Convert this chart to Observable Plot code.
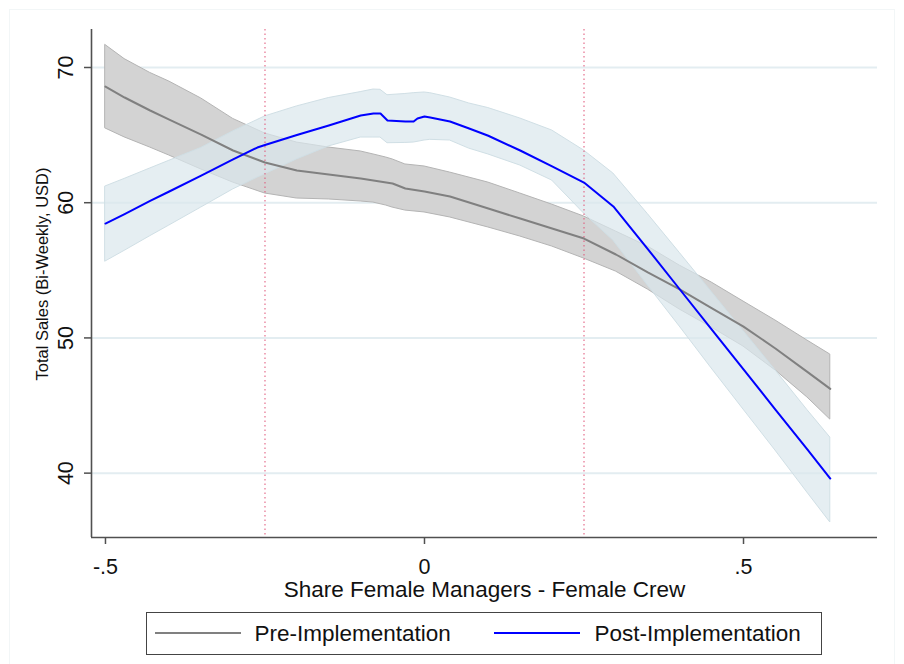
<!DOCTYPE html>
<html>
<head>
<meta charset="utf-8">
<script src="https://cdn.jsdelivr.net/npm/d3@7"></script>
<script src="https://cdn.jsdelivr.net/npm/@observablehq/plot@0.6"></script>
<style>
  html, body { margin: 0; padding: 0; background: #fff; overflow: hidden; }
  #fig { position: relative; width: 904px; height: 664px; font-family: "Liberation Sans", Arial, sans-serif; color: #111; }
  #outline { position: absolute; left: 9px; top: 9px; width: 886px; height: 670px; border: 1px solid #f2f6f7; box-sizing: border-box; }
  #chart { position: absolute; left: 0; top: 0; }
  #legend { position: absolute; left: 146px; top: 612px; width: 676px; height: 43px; border: 1.5px solid #444; box-sizing: border-box; background: #fff; }
  #legend .swatch { position: absolute; height: 0; width: 86px; border-top: 2px solid; }
  #legend .label { position: absolute; top: 8px; font-size: 22.5px; line-height: 25px; white-space: nowrap; color: #111; }
</style>
</head>
<body>
<div id="fig">
  <div id="outline"></div>
  <div id="chart"></div>
  <div id="legend"></div>
</div>
<script>
// Local polynomial fits of bi-weekly total sales (USD) on the
// share of female managers minus share of female crew, with 95% CIs.

const preShare = [-0.5, -0.47, -0.43, -0.4, -0.35, -0.3, -0.25, -0.2, -0.15, -0.1, -0.08, -0.06, -0.05, -0.03, 0, 0.04, 0.1, 0.15, 0.2, 0.25, 0.3, 0.35, 0.4, 0.45, 0.5, 0.55, 0.6, 0.636];
const preMean  = [68.59, 67.78, 66.82, 66.15, 65.04, 63.86, 62.97, 62.38, 62.09, 61.79, 61.64, 61.49, 61.42, 61.05, 60.83, 60.46, 59.57, 58.83, 58.09, 57.35, 56.17, 54.84, 53.59, 52.21, 50.84, 49.22, 47.49, 46.23];
const preHi    = [71.66, 70.62, 69.6, 68.96, 67.71, 66.2, 65.12, 64.45, 64.08, 63.79, 63.57, 63.34, 63.2, 62.83, 62.68, 62.23, 61.49, 60.68, 59.86, 58.98, 57.87, 56.76, 55.35, 54.1, 52.69, 51.29, 49.81, 48.77];
const preLo    = [65.49, 64.83, 64.08, 63.49, 62.46, 61.49, 60.68, 60.31, 60.24, 60.09, 60.01, 59.79, 59.64, 59.42, 59.28, 58.91, 58.17, 57.5, 56.76, 55.87, 54.91, 53.58, 52.1, 50.77, 49.36, 47.6, 45.6, 43.96];

const postShare = [-0.5, -0.47, -0.43, -0.4, -0.35, -0.3, -0.262, -0.25, -0.2, -0.15, -0.1, -0.08, -0.069, -0.058, -0.03, -0.017, -0.011, 0, 0.009, 0.04, 0.07, 0.1, 0.15, 0.2, 0.25, 0.296, 0.35, 0.4, 0.45, 0.5, 0.55, 0.6, 0.636];
const postMean  = [58.46, 59.16, 60.13, 60.83, 62.01, 63.2, 64.08, 64.27, 65.01, 65.71, 66.45, 66.6, 66.6, 66.08, 66.01, 66.01, 66.23, 66.38, 66.3, 66.01, 65.49, 64.95, 63.86, 62.68, 61.49, 59.72, 56.57, 53.6, 50.64, 47.67, 44.7, 41.75, 39.6];
const postHi    = [61.2, 61.76, 62.53, 63.1, 64.05, 65.27, 66.11, 66.38, 67.12, 67.74, 68.18, 68.37, 68.35, 67.95, 68.04, 68.1, 68.12, 68.15, 68.1, 67.78, 67.34, 67.0, 66.23, 65.34, 63.86, 62.16, 59.16, 56.29, 53.4, 50.5, 47.61, 44.67, 42.63];
const postLo    = [55.65, 56.44, 57.52, 58.31, 59.64, 60.98, 61.85, 62.1, 63.2, 64.16, 64.82, 64.82, 64.82, 64.4, 64.42, 64.45, 64.5, 64.6, 64.65, 64.6, 64.0, 63.57, 62.75, 61.64, 59.2, 57.2, 53.88, 50.84, 47.74, 44.7, 41.67, 38.56, 36.35];

const xTicks = [-0.5, 0, 0.5];
const yTicks = [40, 50, 60, 70];
const cutoffs = [-0.25, 0.25];
const seriesNames = ["Pre-Implementation", "Post-Implementation"];
const seriesColors = ["#808080", "#0000ff"];

const toRows = (share, mean, lo, hi) => share.map((s, i) => ({share: s, mean: mean[i], lo: lo[i], hi: hi[i]}));
const pre = toRows(preShare, preMean, preLo, preHi);
const post = toRows(postShare, postMean, postLo, postHi);

// Stata-style tick labels: ".5", "-.5"
const fmtShare = d => String(d).replace(/^(-?)0\./, "$1.");

const chart = Plot.plot({
  width: 904,
  height: 604,
  marginLeft: 91,
  marginRight: 27,
  marginTop: 29,
  marginBottom: 67,
  style: {fontFamily: "'Liberation Sans', Arial, sans-serif", fontSize: "21px", color: "#111", background: "transparent"},
  x: {domain: [-0.5219, 0.71]},
  y: {domain: [35.24, 72.81]},
  marks: [
    Plot.gridY(yTicks, {stroke: "#e3edf1", strokeOpacity: 1, strokeWidth: 2}),
    Plot.areaY(pre, {x: "share", y1: "lo", y2: "hi", fill: "#d3d3d3", stroke: "#b4b4b4", strokeWidth: 1}),
    Plot.areaY(post, {x: "share", y1: "lo", y2: "hi", fill: "#dae7ec", fillOpacity: 0.7, stroke: "#d0dfe5", strokeWidth: 1}),
    Plot.ruleX(cutoffs, {stroke: "#e0577a", strokeOpacity: 0.85, strokeWidth: 1.2, strokeDasharray: "1.5,3"}),
    Plot.line(pre, {x: "share", y: "mean", stroke: seriesColors[0], strokeWidth: 2}),
    Plot.line(post, {x: "share", y: "mean", stroke: seriesColors[1], strokeWidth: 2}),
    Plot.ruleX([-0.5219], {stroke: "#505050", strokeWidth: 1.6}),
    Plot.ruleY([35.24], {stroke: "#505050", strokeWidth: 1.6}),
    Plot.axisX({ticks: xTicks, tickFormat: fmtShare, tickSize: 7, tickPadding: 14, fontSize: 21.5, stroke: "#505050", strokeWidth: 1.5, fill: "#111", label: null}),
    Plot.axisY({ticks: yTicks, tickSize: 7, tickRotate: -90, tickPadding: 12, fontSize: 21.5, stroke: "#505050", strokeWidth: 1.5, fill: "#111", label: null}),
    Plot.text(["Share Female Managers - Female Crew"], {frameAnchor: "bottom", dy: 59, lineAnchor: "bottom", text: d => d, fontSize: 22.5, fill: "#111"}),
    Plot.text(["Total Sales (Bi-Weekly, USD)"], {frameAnchor: "left", dx: -44, dy: -9.5, rotate: -90, lineAnchor: "bottom", textAnchor: "middle", text: d => d, fontSize: 16.5, fill: "#111"})
  ]
});
document.getElementById("chart").appendChild(chart);

// Legend: line swatches with series names, boxed below the plot
const legend = document.getElementById("legend");
const swatchLeft = [7.5, 346.5];
const labelLeft = [107.5, 447.5];
seriesNames.forEach((name, i) => {
  const sw = document.createElement("div");
  sw.className = "swatch";
  sw.style.left = swatchLeft[i] + "px";
  sw.style.top = "18.5px";
  sw.style.borderTopColor = seriesColors[i];
  legend.appendChild(sw);
  const lb = document.createElement("div");
  lb.className = "label";
  lb.style.left = labelLeft[i] + "px";
  lb.textContent = name;
  legend.appendChild(lb);
});
</script>
</body>
</html>
